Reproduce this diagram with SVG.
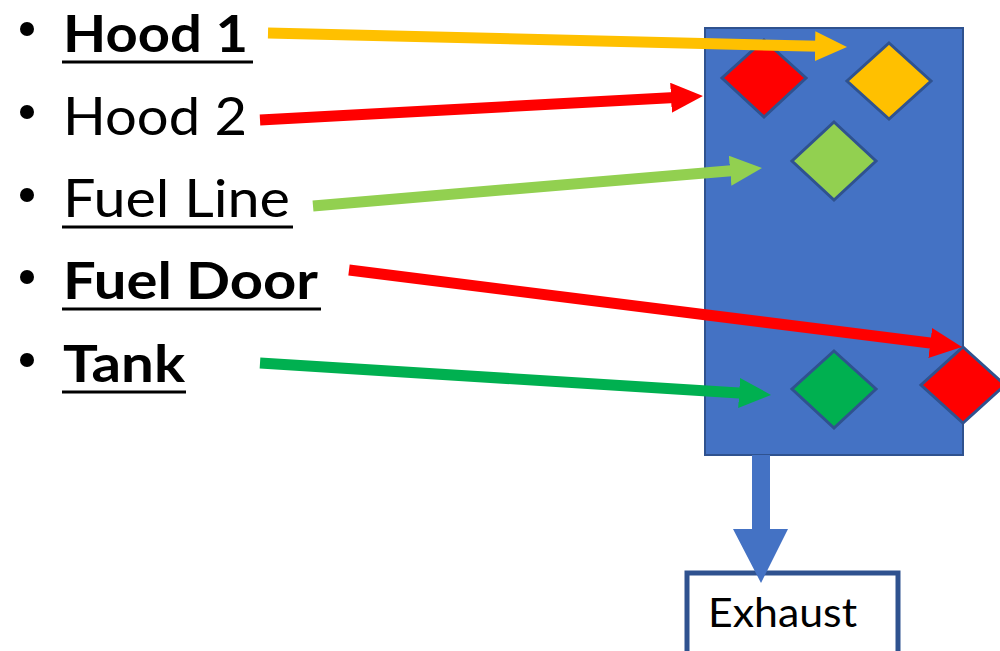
<svg xmlns="http://www.w3.org/2000/svg" width="1000" height="651" viewBox="0 0 1000 651">
<style>
.lbl{font-family:Lato,"Open Sans","Liberation Sans",sans-serif;font-size:52.5px;fill:#000}
.b{font-weight:bold}
.ul{stroke:#000;stroke-width:3}
.dia{stroke:#2F528F;stroke-width:3}
.conn{fill:none;stroke-width:11;stroke-linecap:butt}
</style>
<defs>
<marker id="hY" markerUnits="userSpaceOnUse" markerWidth="32" markerHeight="30" refX="4" refY="15" orient="auto"><path d="M0,0 L32,15 L0,30 z" fill="#FFC000"/></marker>
<marker id="hR" markerUnits="userSpaceOnUse" markerWidth="32" markerHeight="30" refX="4" refY="15" orient="auto"><path d="M0,0 L32,15 L0,30 z" fill="#FF0000"/></marker>
<marker id="hLG" markerUnits="userSpaceOnUse" markerWidth="32" markerHeight="30" refX="4" refY="15" orient="auto"><path d="M0,0 L32,15 L0,30 z" fill="#92D050"/></marker>
<marker id="hG" markerUnits="userSpaceOnUse" markerWidth="32" markerHeight="30" refX="4" refY="15" orient="auto"><path d="M0,0 L32,15 L0,30 z" fill="#00B050"/></marker>
</defs>
<rect width="1000" height="651" fill="#fff"/>
<g id="labels">
<g id="hood1"><circle cx="27" cy="29" r="7"/><text class="lbl b" x="63" y="52" textLength="185" lengthAdjust="spacingAndGlyphs">Hood 1</text><line class="ul" x1="62" y1="62" x2="253" y2="62"/></g>
<g id="hood2"><circle cx="27" cy="112" r="7"/><text class="lbl" x="63" y="135" textLength="184" lengthAdjust="spacingAndGlyphs">Hood 2</text></g>
<g id="fuelline"><circle cx="27" cy="195" r="7"/><text class="lbl" x="63" y="217" textLength="227" lengthAdjust="spacingAndGlyphs">Fuel Line</text><line class="ul" x1="62" y1="227" x2="293" y2="227"/></g>
<g id="fueldoor"><circle cx="27" cy="277" r="7"/><text class="lbl b" x="63" y="299" textLength="255" lengthAdjust="spacingAndGlyphs">Fuel Door</text><line class="ul" x1="62" y1="309" x2="321" y2="309"/></g>
<g id="tank"><circle cx="27" cy="360" r="7"/><text class="lbl b" x="63" y="382" textLength="122" lengthAdjust="spacingAndGlyphs">Tank</text><line class="ul" x1="62" y1="392" x2="186" y2="392"/></g>
</g>
<g id="panel"><rect x="705" y="28" width="258" height="427" fill="#4472C4" stroke="#2F528F" stroke-width="2"/></g>
<g id="d-red1"><polygon class="dia" points="764,40 806,78 764,117 722,78" fill="#FF0000"/></g>
<g id="d-yellow"><polygon class="dia" points="889,43 931,81 889,119 847,81" fill="#FFC000"/></g>
<g id="d-lgreen"><polygon class="dia" points="834,122 876,161 834,200 792,161" fill="#92D050"/></g>
<g id="d-green"><polygon class="dia" points="834,351 876,389 834,428 792,389" fill="#00B050"/></g>
<g id="d-red2"><polygon class="dia" points="963,347 1005,385 963,423 921,385" fill="#FF0000"/></g>
<g id="exhaust"><rect x="687" y="573" width="211" height="100" fill="#fff" stroke="#2F528F" stroke-width="5"/><text x="708" y="627" font-family="Lato,'Open Sans','Liberation Sans',sans-serif" font-size="40" textLength="149" lengthAdjust="spacingAndGlyphs">Exhaust</text></g>
<g id="connectors">
<line class="conn" x1="268" y1="33" x2="819" y2="46.3" stroke="#FFC000" marker-end="url(#hY)"/>
<line class="conn" x1="260" y1="120" x2="675" y2="97.6" stroke="#FF0000" marker-end="url(#hR)"/>
<line class="conn" x1="313" y1="206" x2="734.1" y2="170.4" stroke="#92D050" marker-end="url(#hLG)"/>
<line class="conn" x1="349" y1="270" x2="934.2" y2="343.5" stroke="#FF0000" marker-end="url(#hR)"/>
<line class="conn" x1="260" y1="363" x2="743.1" y2="393.2" stroke="#00B050" marker-end="url(#hG)"/>
<polygon points="752,455 770,455 770,529 788,529 761,583 733,529 752,529" fill="#4472C4"/>
</g>
</svg>
